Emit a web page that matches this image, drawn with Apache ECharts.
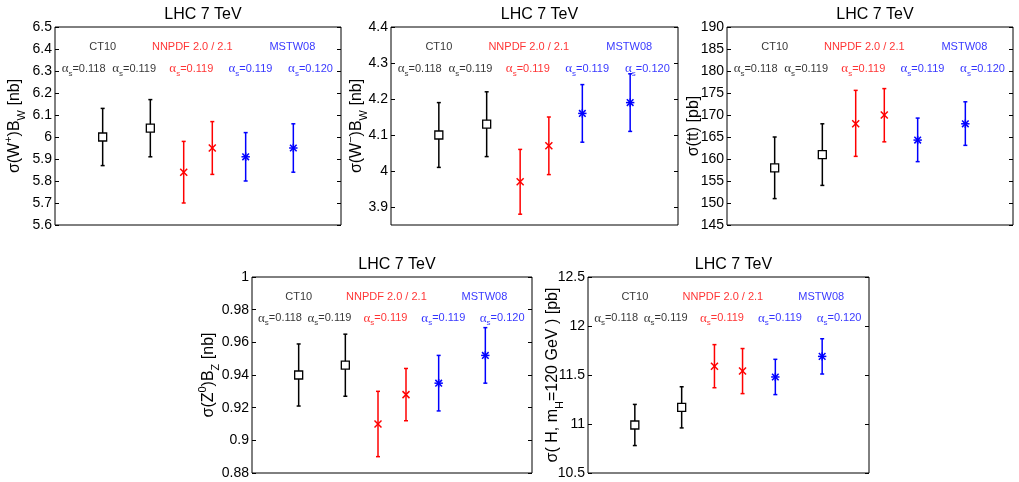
<!DOCTYPE html>
<html>
<head>
<meta charset="utf-8">
<script src="https://cdn.jsdelivr.net/npm/echarts@6/dist/echarts.min.js"></script>
<style>
html,body{margin:0;padding:0;background:#fff;}
#chart{width:1019px;height:482px;}
</style>
</head>
<body>
<div id="chart"></div>
<script>
// ---- data ----
const xPos = [1, 2, 2.7, 3.3, 4, 5];               // position of each PDF set on the hidden x axis
const pointGroup = [0, 0, 1, 1, 2, 2];              // 0 = CT10, 1 = NNPDF, 2 = MSTW08
const groupNames = ['CT10', 'NNPDF 2.0 / 2.1', 'MSTW08'];
const groupNameX = [1, 2.88, 4.98];
const alphaValues = ['0.118', '0.119', '0.119', '0.119', '0.120'];
const alphaGroup = [0, 0, 1, 2, 2];
const alphaX = [0.6, 1.66, 2.86, 4.1, 5.36];

const wplusVal = [6.00, 6.04, 5.84, 5.95, 5.91, 5.95];
const wplusLo  = [5.87, 5.91, 5.70, 5.83, 5.80, 5.84];
const wplusHi  = [6.13, 6.17, 5.98, 6.07, 6.02, 6.06];
const wplusTicks = [5.6, 5.7, 5.8, 5.9, 6, 6.1, 6.2, 6.3, 6.4, 6.5];

const wminusVal = [4.10, 4.13, 3.97, 4.07, 4.16, 4.19];
const wminusLo  = [4.01, 4.04, 3.88, 3.99, 4.08, 4.11];
const wminusHi  = [4.19, 4.22, 4.06, 4.15, 4.24, 4.27];
const wminusTicks = [3.9, 4, 4.1, 4.2, 4.3, 4.4];

const ttVal = [158.0, 161.0, 168.0, 170.0, 164.3, 168.0];
const ttLo  = [151.0, 154.0, 160.6, 163.9, 159.4, 163.1];
const ttHi  = [165.0, 168.0, 175.6, 176.0, 169.3, 173.0];
const ttTicks = [145, 150, 155, 160, 165, 170, 175, 180, 185, 190];

const zVal = [0.940, 0.946, 0.910, 0.928, 0.935, 0.952];
const zLo  = [0.921, 0.927, 0.890, 0.912, 0.918, 0.935];
const zHi  = [0.959, 0.965, 0.930, 0.944, 0.952, 0.969];
const zTicks = [0.88, 0.9, 0.92, 0.94, 0.96, 0.98, 1];

const hVal = [10.99, 11.17, 11.59, 11.54, 11.48, 11.69];
const hLo  = [10.78, 10.96, 11.37, 11.31, 11.30, 11.51];
const hHi  = [11.20, 11.38, 11.81, 11.77, 11.66, 11.87];
const hTicks = [10.5, 11, 11.5, 12, 12.5];

const titleText = 'LHC 7 TeV';

// ---- styling / layout ----
const groupColors = ['#000000', '#ff0000', '#0000ff'];
const markerKinds = ['square', 'cross', 'star'];

const panels = [
  {val: wplusVal, lo: wplusLo, hi: wplusHi, ticks: wplusTicks, min: 5.6, max: 6.5,
   name: '{n|σ(W}{sup|+}{n|)B}{sub|W}{n| [nb]}', gap: 28,
   grid: {left: 55, top: 27, width: 286, height: 198}},
  {val: wminusVal, lo: wminusLo, hi: wminusHi, ticks: wminusTicks, min: 3.85, max: 4.4,
   name: '{n|σ(W}{sup|−}{n|)B}{sub|W}{n| [nb]}', gap: 22,
   grid: {left: 391, top: 27, width: 287, height: 198}},
  {val: ttVal, lo: ttLo, hi: ttHi, ticks: ttTicks, min: 145, max: 190,
   name: '{n|σ(tt) [pb]}', gap: 21,
   grid: {left: 727, top: 27, width: 286, height: 198}},
  {val: zVal, lo: zLo, hi: zHi, ticks: zTicks, min: 0.88, max: 1,
   name: '{n|σ(Z}{sup|0}{n|)B}{sub|Z}{n| [nb]}', gap: 31,
   grid: {left: 252, top: 277, width: 280, height: 196}},
  {val: hVal, lo: hLo, hi: hHi, ticks: hTicks, min: 10.5, max: 12.5,
   name: '{n|σ( H, m}{sub|H}{n|=120 GeV ) [pb]}', gap: 23,
   grid: {left: 588, top: 277, width: 281, height: 196}}
];

const nameRich = {
  n: {fontSize: 16, lineHeight: 24, fontFamily: 'Liberation Sans', color: '#000'},
  sub: {fontSize: 11, lineHeight: 12, verticalAlign: 'bottom', fontFamily: 'Liberation Sans', color: '#000'},
  sup: {fontSize: 11, lineHeight: 12, verticalAlign: 'top', fontFamily: 'Liberation Sans', color: '#000'}
};

function alphaRich(color) {
  return {
    a: {fontSize: 13, fontFamily: 'Liberation Serif', lineHeight: 18, color: color},
    s: {fontSize: 8, fontFamily: 'Liberation Sans', lineHeight: 9, verticalAlign: 'bottom', color: color},
    t: {fontSize: 11, fontFamily: 'Liberation Sans', lineHeight: 18, color: color}
  };
}

const grids = [], xAxes = [], yAxes = [], series = [], titles = [];

panels.forEach((p, i) => {
  grids.push(Object.assign({show: true, borderColor: '#000', borderWidth: 1, backgroundColor: '#fff'}, p.grid));
  titles.push({
    text: titleText,
    left: p.grid.left + p.grid.width / 2,
    top: p.grid.top - 25,
    textAlign: 'center',
    textStyle: {fontSize: 16, fontWeight: 'normal', fontFamily: 'Liberation Sans', color: '#000'}
  });
  xAxes.push({
    type: 'value', gridIndex: i, min: 0, max: 6,
    show: true, axisLine: {show: false}, axisTick: {show: false},
    axisLabel: {show: false}, splitLine: {show: false}
  });
  const yCommon = {
    type: 'value', gridIndex: i, min: p.min, max: p.max,
    axisLine: {show: false},
    splitLine: {show: false},
    axisTick: {show: true, inside: true, length: 4, lineStyle: {color: '#000', width: 1}, customValues: p.ticks}
  };
  yAxes.push(Object.assign({}, yCommon, {
    position: 'left',
    name: p.name,
    nameLocation: 'middle',
    nameRotate: 90,
    nameGap: p.gap,
    nameMoveOverlap: false,
    nameTextStyle: {rich: nameRich},
    axisLabel: {show: true, margin: 3, fontSize: 14, fontFamily: 'Liberation Sans', color: '#000',
                customValues: p.ticks, formatter: v => String(v)}
  }));
  yAxes.push(Object.assign({}, yCommon, {
    position: 'right',
    axisLabel: {show: false}
  }));

  const data = xPos.map((x, k) => [x, p.val[k], p.lo[k], p.hi[k], pointGroup[k]]);
  series.push({
    type: 'custom',
    xAxisIndex: i, yAxisIndex: 2 * i,
    data: data,
    z: 5,
    renderItem: function (params, api) {
      const x = api.value(0), y = api.value(1), lo = api.value(2), hi = api.value(3), g = api.value(4);
      const c = groupColors[g];
      const kind = markerKinds[g];
      const pc = api.coord([x, y]);
      const pl = api.coord([x, lo]);
      const ph = api.coord([x, hi]);
      const lw = 1.5, cap = 2;
      const st = {stroke: c, lineWidth: lw, fill: null};
      const children = [
        {type: 'line', shape: {x1: pc[0], y1: pl[1], x2: pc[0], y2: ph[1]}, style: st},
        {type: 'line', shape: {x1: pc[0] - cap, y1: pl[1], x2: pc[0] + cap, y2: pl[1]}, style: st},
        {type: 'line', shape: {x1: pc[0] - cap, y1: ph[1], x2: pc[0] + cap, y2: ph[1]}, style: st}
      ];
      if (kind === 'square') {
        const s = 4;
        children.push({type: 'rect', shape: {x: pc[0] - s, y: pc[1] - s, width: 2 * s, height: 2 * s},
          style: {stroke: c, lineWidth: 1.3, fill: '#fff'}});
      } else if (kind === 'cross') {
        const s = 3.5;
        children.push({type: 'line', shape: {x1: pc[0] - s, y1: pc[1] - s, x2: pc[0] + s, y2: pc[1] + s}, style: st});
        children.push({type: 'line', shape: {x1: pc[0] - s, y1: pc[1] + s, x2: pc[0] + s, y2: pc[1] - s}, style: st});
      } else {
        const s = 3.3, t = 4.2;
        children.push({type: 'line', shape: {x1: pc[0] - s, y1: pc[1] - s, x2: pc[0] + s, y2: pc[1] + s}, style: st});
        children.push({type: 'line', shape: {x1: pc[0] - s, y1: pc[1] + s, x2: pc[0] + s, y2: pc[1] - s}, style: st});
        children.push({type: 'line', shape: {x1: pc[0] - t, y1: pc[1], x2: pc[0] + t, y2: pc[1]}, style: st});
        children.push({type: 'line', shape: {x1: pc[0], y1: pc[1] - t, x2: pc[0], y2: pc[1] + t}, style: st});
      }
      return {type: 'group', children: children};
    }
  });

  // annotation rows (placed at fixed fractions of the plot height)
  const span = p.max - p.min;
  const yRow1 = p.max - 0.10 * span;
  const yRow2 = p.max - 0.21 * span;
  series.push({
    type: 'scatter', xAxisIndex: i, yAxisIndex: 2 * i, symbolSize: 0, silent: true, z: 6,
    data: groupNames.map((n, k) => ({
      value: [groupNameX[k], yRow1],
      label: {show: true, position: 'inside', formatter: n, color: groupColors[k],
              fontSize: 11, fontFamily: 'Liberation Sans'}
    }))
  });
  series.push({
    type: 'scatter', xAxisIndex: i, yAxisIndex: 2 * i, symbolSize: 0, silent: true, z: 6,
    data: alphaValues.map((v, k) => ({
      value: [alphaX[k], yRow2],
      label: {show: true, position: 'inside', formatter: '{a|α}{s|s}{t|=' + v + '}',
              rich: alphaRich(groupColors[alphaGroup[k]])}
    }))
  });
});

const chart = echarts.init(document.getElementById('chart'), null, {renderer: 'canvas'});
chart.setOption({
  animation: false,
  backgroundColor: '#fff',
  title: titles,
  grid: grids,
  xAxis: xAxes,
  yAxis: yAxes,
  series: series
});
</script>
</body>
</html>
